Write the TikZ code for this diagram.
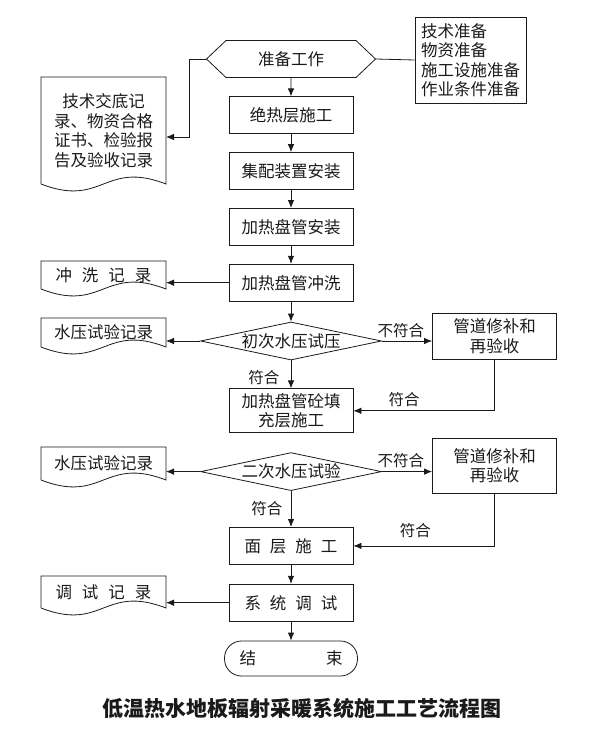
\documentclass[tikz,border=0pt]{standalone}
\usepackage{fontspec}
\setmainfont{Noto Sans CJK SC}
\definecolor{ink}{HTML}{1A1A1A}
\usetikzlibrary{arrows.meta,positioning,calc,shapes.geometric,shapes.symbols}
\newcommand{\docoutline}[1]{\draw[ink,line width=0.8pt] (#1.south west)--(#1.north west)--(#1.north east)--(#1.south east) .. controls +(-62,-24) and +(62,24) .. (#1.south west);}
\begin{document}
\begin{tikzpicture}[x=1pt,y=-1pt,node distance=18pt,every node/.style={font=\fontsize{16.5}{19.5}\selectfont,text=ink}]
\tikzstyle{box}=[draw=ink,line width=0.8pt,minimum width=124pt,minimum height=37pt,align=center,inner sep=2pt]
\tikzstyle{prepbox}=[box,signal,signal to=west and east,signal pointer angle=87,minimum width=169pt]
\tikzstyle{testbox}=[box,diamond,aspect=4.8,minimum width=181pt,minimum height=38pt,inner sep=0pt]
\tikzstyle{endbox}=[box,rounded corners=17pt,minimum width=133pt,minimum height=35pt]
\tikzstyle{doc}=[minimum width=125pt,align=center,outer sep=0pt,inner sep=0pt]
\tikzstyle{arr}=[-{Latex[length=8pt,width=6.5pt]},draw=ink,line width=0.8pt]
\tikzstyle{lbl}=[font=\fontsize{15.5}{18}\selectfont]
\useasboundingbox (0,0) rectangle (604,737);
% main column
\node[prepbox] (prep) at (291,59) {准备工作};
\node[box,below=18.5pt of prep] (insul) {绝热层施工};
\node[box,below=of insul] (manifold) {集配装置安装};
\node[box,below=of manifold] (coil) {加热盘管安装};
\node[box,below=of coil] (flush) {加热盘管冲洗};
\node[testbox,below=20pt of flush] (test1) {初次水压试压};
\node[box,minimum height=44pt,below=28pt of test1] (fill) {加热盘管砼填\\充层施工};
\node[testbox,below=19pt of fill] (test2) {二次水压试验};
\node[box,below=36pt of test2] (surface) {面\hspace{9pt}层\hspace{9pt}施\hspace{9pt}工};
\node[box,below=19pt of surface] (debug) {系\hspace{9pt}统\hspace{9pt}调\hspace{9pt}试};
\node[endbox,below=19pt of debug] (finish) {结\hspace{70pt}束};
% side nodes
\node[draw=ink,line width=0.8pt,minimum width=111pt,minimum height=86pt,align=left,inner sep=3pt] (items) at (470.5,60) {技术准备\\物资准备\\施工设施准备\\作业条件准备};
\node[doc,minimum height=107pt] (rec0) at (103.5,130.5) {技术交底记\\录、物资合格\\证书、检验报\\告及验收记录};
\node[doc,minimum height=28pt] (rec1) at (103.5,275) {冲\hspace{10pt}洗\hspace{10pt}记\hspace{10pt}录};
\node[doc,minimum height=29pt] (rec2) at (103.5,332.5) {水压试验记录};
\node[doc,minimum height=33pt] (rec3) at (103.5,463.5) {水压试验记录};
\node[doc,minimum height=32pt] (rec4) at (103.5,592) {调\hspace{10pt}试\hspace{10pt}记\hspace{10pt}录};
\node[box,minimum height=46pt] (repair1) at (494.5,336) {管道修补和\\再验收};
\node[box,minimum height=55pt] (repair2) at (494.5,465.5) {管道修补和\\再验收};
\node[font=\fontsize{21}{24}\selectfont\bfseries] (title) at (302,708) {低温热水地板辐射采暖系统施工工艺流程图};
% outlines of the records
\foreach \r in {rec0,rec1,rec2,rec3,rec4} \docoutline{\r};
% connectors
\draw[ink,line width=0.8pt] (prep.east) -- (items.west);
\draw[arr] (prep.west) -- ++(-17,0) |- ([yshift=-6.5pt]rec0.east);
\foreach \a/\b in {prep/insul,insul/manifold,manifold/coil,coil/flush,flush/test1,surface/debug,debug/finish}
  \draw[arr] (\a) -- (\b);
\draw[arr] (test1) -- node[lbl,left=8pt,pos=0.6]{符合} (fill);
\draw[arr] (test2) -- node[lbl,left=5pt,pos=0.5]{符合} (surface);
\draw[arr] (flush.west) -- (flush.west -| rec1.east);
\draw[arr] (test1.west) -- (test1.west -| rec2.east);
\draw[arr] (test2.west) -- (test2.west -| rec3.east);
\draw[arr] (debug.west) -- (debug.west -| rec4.east);
\draw[arr] (test1.east) -- node[lbl,above,pos=0.38]{不符合} (test1.east -| repair1.west);
\draw[arr] (test2.east) -- node[lbl,above,pos=0.38]{不符合} (test2.east -| repair2.west);
\draw[arr] (repair1.south) |- node[lbl,above,pos=0.82]{符合} (fill.east);
\draw[arr] (repair2.south) |- node[lbl,above=4pt,pos=0.78]{符合} (surface.east);
\end{tikzpicture}
\end{document}
